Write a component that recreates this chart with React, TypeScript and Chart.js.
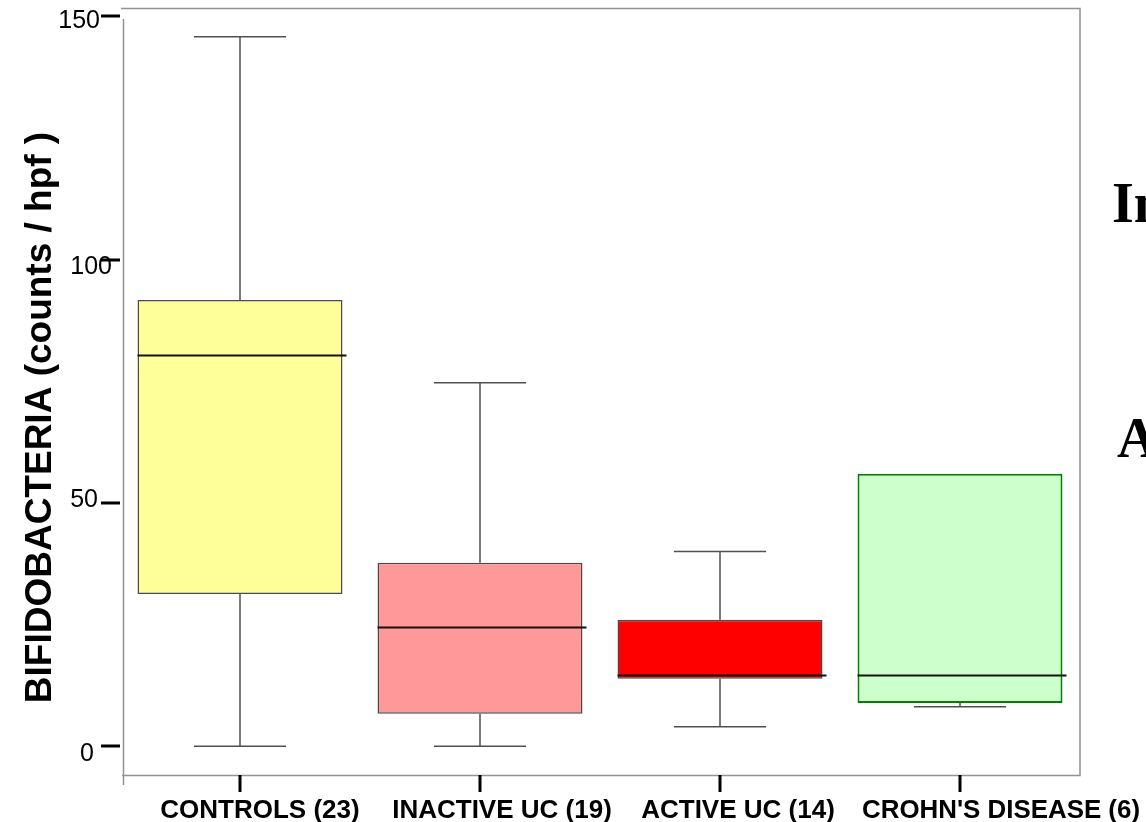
import React, { useEffect, useRef } from "react";
import { Chart, registerables } from "chart.js";

Chart.register(...registerables);

// Groups (sample size in brackets)
const categories = ["CONTROLS (23)", "INACTIVE UC (19)", "ACTIVE UC (14)", "CROHN'S DISEASE (6)"];
// Five-number summaries, counts / hpf
const minValues = [0, 0, 4.0, 8.1];
const q1Values = [31.3, 6.7, 13.9, 8.9];
const medianValues = [80.4, 24.6, 14.7, 14.7];
const q3Values = [91.7, 37.7, 26.0, 56.0];
const maxValues = [145.8, 74.7, 40.0, 56.0];
// Y axis tick values
const yTicks = [0, 50, 100, 150];

const boxFill = ["#FFFF99", "#FF9999", "#FF0000", "#CCFFCC"];
const boxBorder = ["#4a4a4a", "#4a4a4a", "#4a4a4a", "#008000"];
const boxBorderWidth = [1.5, 1.5, 1.5, 2];

// small typographic nudges for tick labels (dx, dy)
const yLabelNudge = [[-18, 8], [-14, -3], [0, 7], [-12, 5]];
const xLabelShift = [20, 22, 18, 41];
const xLabelMaxWidth = [220, 240, 220, 278];

const boxPlotPlugin = {
  id: "boxPlotParts",
  beforeDatasetsDraw(chart: any) {
    const ctx = chart.ctx;
    const x = chart.scales.x;
    const y = chart.scales.y;
    const meta = chart.getDatasetMeta(0);
    ctx.save();
    ctx.strokeStyle = "#505050";
    ctx.lineWidth = 1.5;
    categories.forEach((_, i) => {
      const cx = x.getPixelForValue(i);
      const bar = meta.data[i];
      const capHalf = bar.width * 0.225;
      const yMin = y.getPixelForValue(minValues[i]);
      const yMax = y.getPixelForValue(maxValues[i]);
      const yQ1 = y.getPixelForValue(q1Values[i]);
      const yQ3 = y.getPixelForValue(q3Values[i]);
      ctx.beginPath();
      if (maxValues[i] > q3Values[i]) {
        ctx.moveTo(cx, yQ3);
        ctx.lineTo(cx, yMax);
        ctx.moveTo(cx - capHalf, yMax);
        ctx.lineTo(cx + capHalf, yMax);
      }
      if (minValues[i] < q1Values[i]) {
        ctx.moveTo(cx, yQ1);
        ctx.lineTo(cx, yMin);
        ctx.moveTo(cx - capHalf, yMin);
        ctx.lineTo(cx + capHalf, yMin);
      }
      ctx.stroke();
    });
    ctx.restore();
  },
  afterDatasetsDraw(chart: any) {
    const ctx = chart.ctx;
    const y = chart.scales.y;
    const meta = chart.getDatasetMeta(0);
    ctx.save();
    ctx.strokeStyle = "#111111";
    ctx.lineWidth = 2;
    categories.forEach((_, i) => {
      const bar = meta.data[i];
      const left = bar.x - bar.width / 2;
      const right = bar.x + bar.width / 2 + 4;
      const ym = Math.round(y.getPixelForValue(medianValues[i])) + 0.5;
      ctx.beginPath();
      ctx.moveTo(left, ym);
      ctx.lineTo(right, ym);
      ctx.stroke();
    });
    ctx.restore();
  },
  afterDraw(chart: any) {
    const ctx = chart.ctx;
    const area = chart.chartArea;
    const x = chart.scales.x;
    const y = chart.scales.y;
    ctx.save();

    // frame and axis lines
    ctx.strokeStyle = "#929292";
    ctx.lineWidth = 1.5;
    ctx.beginPath();
    ctx.moveTo(area.left + 1, area.top + 0.5);
    ctx.lineTo(area.right, area.top + 0.5);
    ctx.lineTo(area.right, area.bottom + 0.5);
    ctx.lineTo(area.left + 2, area.bottom + 0.5);
    ctx.moveTo(area.left + 3.5, area.top + 11);
    ctx.lineTo(area.left + 3.5, area.bottom + 10);
    ctx.stroke();

    // y ticks and labels
    ctx.strokeStyle = "#000000";
    ctx.lineWidth = 3;
    ctx.fillStyle = "#000000";
    ctx.font = '25px "Liberation Sans", Arial, sans-serif';
    ctx.textAlign = "right";
    ctx.textBaseline = "middle";
    yTicks.forEach((v, i) => {
      const py = Math.round(y.getPixelForValue(v));
      ctx.beginPath();
      ctx.moveTo(area.left - 19, py);
      ctx.lineTo(area.left, py);
      ctx.stroke();
      const [dx, dy] = yLabelNudge[i];
      ctx.fillText(String(v), area.left - 8 + dx, py + dy);
    });

    // x ticks and labels
    ctx.font = 'bold 26px "Liberation Sans", Arial, sans-serif';
    ctx.textAlign = "center";
    ctx.textBaseline = "alphabetic";
    categories.forEach((label, i) => {
      const px = Math.round(x.getPixelForValue(i));
      ctx.beginPath();
      ctx.moveTo(px, area.bottom);
      ctx.lineTo(px, area.bottom + 17);
      ctx.stroke();
      ctx.fillText(label, px + xLabelShift[i], area.bottom + 43, xLabelMaxWidth[i]);
    });

    // y axis title
    ctx.save();
    ctx.translate(51, (area.top + area.bottom) / 2 + 26);
    ctx.rotate(-Math.PI / 2);
    ctx.font = 'bold 37px "Liberation Sans", Arial, sans-serif';
    ctx.textAlign = "center";
    ctx.textBaseline = "alphabetic";
    ctx.fillText("BIFIDOBACTERIA (counts / hpf )", 0, 0, 577);
    ctx.restore();

    // side headings
    ctx.font = 'bold 56px "Liberation Serif", "Times New Roman", serif';
    ctx.textAlign = "left";
    ctx.fillText("In", 1112, 222);
    ctx.fillText("A", 1117, 457);

    ctx.restore();
  },
};

export default function App() {
  const canvasRef = useRef<HTMLCanvasElement | null>(null);

  useEffect(() => {
    const canvas = canvasRef.current;
    if (!canvas) return;
    const chart = new Chart(canvas, {
      type: "bar",
      data: {
        labels: categories,
        datasets: [
          {
            label: "BIFIDOBACTERIA",
            data: categories.map((_, i) => [q1Values[i], q3Values[i]]) as any,
            backgroundColor: boxFill,
            borderColor: boxBorder,
            borderWidth: boxBorderWidth,
            borderSkipped: false,
            barPercentage: 0.854,
            categoryPercentage: 1,
          },
        ],
      },
      options: {
        responsive: false,
        animation: false,
        devicePixelRatio: 1,
        layout: { padding: { left: 120, right: 66, top: 8, bottom: 47 } },
        plugins: {
          legend: { display: false },
          tooltip: { enabled: false },
          title: { display: false },
        },
        scales: {
          x: { type: "category", display: false, offset: true },
          y: { type: "linear", display: false, min: -5.9, max: 151.7 },
        },
      },
      plugins: [boxPlotPlugin],
    });
    return () => chart.destroy();
  }, []);

  return (
    <div style={{ position: "absolute", left: 0, top: 0, width: 1146, height: 822, background: "#ffffff", overflow: "hidden" }}>
      <canvas ref={canvasRef} width={1146} height={822} style={{ display: "block" }} />
    </div>
  );
}
